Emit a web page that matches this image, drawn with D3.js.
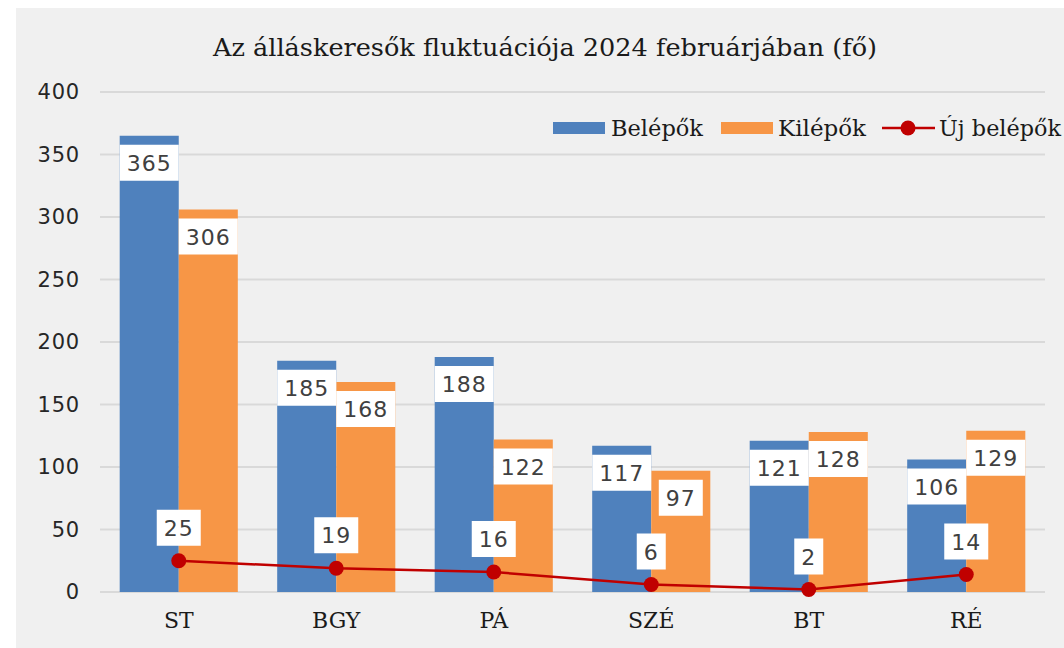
<!DOCTYPE html>
<html><head><meta charset="utf-8">
<script src="https://cdn.jsdelivr.net/npm/d3@7"></script>
<style>
html,body{margin:0;padding:0;background:#fff;}
svg{display:block;}
</style></head>
<body>
<script>
const title = "Az álláskeresők fluktuációja 2024 februárjában (fő)";
const categories = ["ST","BGY","PÁ","SZÉ","BT","RÉ"];
const belepok = [365,185,188,117,121,106];
const kilepok = [306,168,122,97,128,129];
const ujBelepok = [25,19,16,6,2,14];
const yTicks = [0,50,100,150,200,250,300,350,400];
const seriesNames = ["Belépők","Kilépők","Új belépők"];
const colors = {bel:"#4f81bd", kil:"#f79646", uj:"#c00000"};

const W=1064,H=648;
const svg=d3.select("body").append("svg").attr("width",W).attr("height",H);
svg.append("rect").attr("x",16).attr("y",8).attr("width",W-16).attr("height",H-8).attr("fill","#f0f0f0");

const pLeft=100,pRight=1045,pTop=92,pBottom=592;
const x=d3.scaleBand().domain(categories).range([pLeft,pRight]).paddingInner(0.25).paddingOuter(0.125);
const y=d3.scaleLinear().domain([0,400]).range([pBottom,pTop]);
const xs=d3.scaleBand().domain(["bel","kil"]).range([0,x.bandwidth()]);

// gridlines
svg.append("g").selectAll("line").data(yTicks).join("line")
  .attr("x1",pLeft).attr("x2",pRight).attr("y1",d=>y(d)).attr("y2",d=>y(d))
  .attr("stroke","#d9d9d9").attr("stroke-width",2);

// y axis labels
const yAxis=d3.axisLeft(y).tickValues(yTicks).tickSize(0).tickPadding(0);
const ya=svg.append("g").attr("transform","translate(80,0)").call(yAxis);
ya.select(".domain").remove();
ya.selectAll("text").attr("font-family","DejaVu Sans, Verdana, sans-serif").attr("font-size",21)
  .attr("letter-spacing",0.8).attr("fill","#262626");

// x axis labels
const xAxis=d3.axisBottom(x).tickSize(0).tickPadding(0);
const xa=svg.append("g").attr("transform",`translate(0,${pBottom+20})`).call(xAxis);
xa.select(".domain").remove();
xa.selectAll("text").attr("font-family","DejaVu Serif, serif").attr("font-size",22).attr("fill","#1a1a1a");

// bars
const data=categories.map((c,i)=>({c,bel:belepok[i],kil:kilepok[i],uj:ujBelepok[i]}));
const g=svg.append("g");
["bel","kil"].forEach(k=>{
  g.selectAll("rect."+k).data(data).join("rect").attr("class",k)
   .attr("x",d=>x(d.c)+xs(k)).attr("width",xs.bandwidth())
   .attr("y",d=>y(d[k])).attr("height",d=>y(0)-y(d[k]))
   .attr("fill",colors[k]);
});

// bar labels
const lab=svg.append("g");
function boxLabel(cx,ytop,text,maxW){
  const gg=lab.append("g");
  const r=gg.append("rect").attr("fill","#fff");
  const t=gg.append("text").text(text).attr("x",cx).attr("y",ytop+26)
    .attr("text-anchor","middle").attr("font-family","DejaVu Sans, Verdana, sans-serif")
    .attr("font-size",22).attr("letter-spacing",1).attr("fill","#404040");
  let w=t.node().getComputedTextLength()+14;
  if(maxW) w=Math.min(w,maxW);
  r.attr("x",cx-w/2).attr("y",ytop).attr("width",w).attr("height",36);
}
["bel","kil"].forEach(k=>{
  data.forEach(d=>{
    boxLabel(x(d.c)+xs(k)+xs.bandwidth()/2, y(d[k])+9, d[k], xs.bandwidth());
  });
});

// line
const cx=d=>x(d.c)+x.bandwidth()/2;
svg.append("path").datum(data).attr("fill","none").attr("stroke",colors.uj).attr("stroke-width",2.5)
  .attr("d",d3.line().x(cx).y(d=>y(d.uj)));
svg.append("g").selectAll("circle").data(data).join("circle")
  .attr("cx",cx).attr("cy",d=>y(d.uj)).attr("r",7.5).attr("fill",colors.uj);
data.forEach(d=>boxLabel(cx(d), y(d.uj)-15-36, d.uj));

// title
svg.append("text").text(title).attr("x",545).attr("y",56).attr("text-anchor","middle")
  .attr("font-family","DejaVu Serif, serif").attr("font-size",24).attr("fill","#1a1a1a")
  .attr("textLength",664).attr("lengthAdjust","spacingAndGlyphs");

// legend
const lg=svg.append("g").attr("font-family","DejaVu Serif, serif").attr("font-size",22).attr("fill","#1a1a1a");
lg.append("rect").attr("x",553).attr("y",122).attr("width",52).attr("height",12).attr("fill",colors.bel);
lg.append("text").attr("x",611).attr("y",136).text(seriesNames[0]).attr("textLength",92).attr("lengthAdjust","spacingAndGlyphs");
lg.append("rect").attr("x",721).attr("y",122).attr("width",52).attr("height",12).attr("fill",colors.kil);
lg.append("text").attr("x",778).attr("y",136).text(seriesNames[1]).attr("textLength",88).attr("lengthAdjust","spacingAndGlyphs");
lg.append("line").attr("x1",882).attr("x2",935).attr("y1",128).attr("y2",128).attr("stroke",colors.uj).attr("stroke-width",2.5);
lg.append("circle").attr("cx",908).attr("cy",128).attr("r",7.5).attr("fill",colors.uj);
lg.append("text").attr("x",939).attr("y",136).text(seriesNames[2]).attr("textLength",122).attr("lengthAdjust","spacingAndGlyphs");
</script>
</body></html>
